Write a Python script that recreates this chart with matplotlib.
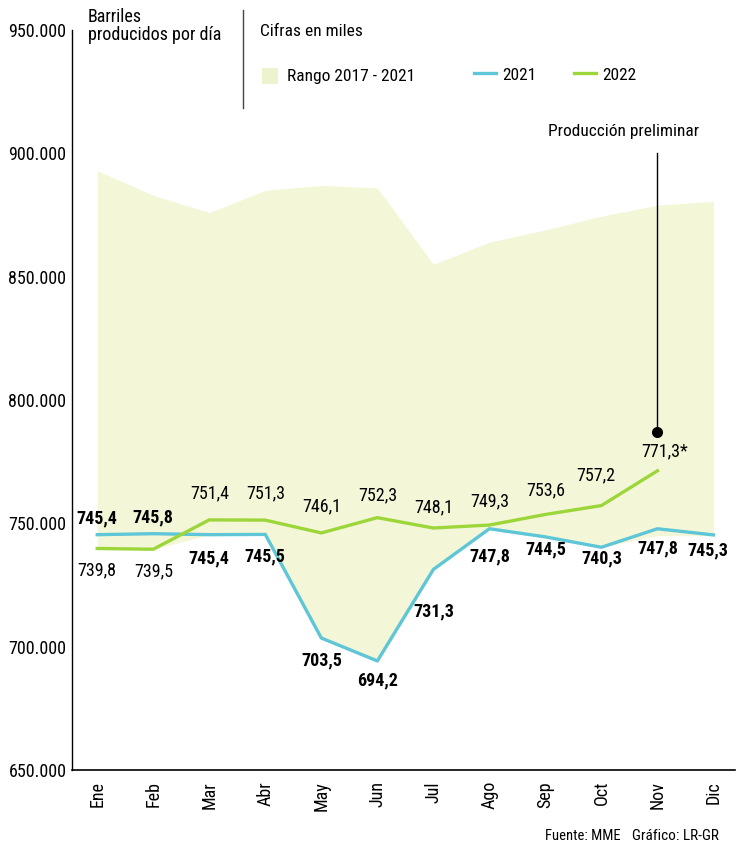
import matplotlib
matplotlib.use("Agg")
import matplotlib.pyplot as plt
from matplotlib.lines import Line2D
from matplotlib.patches import Rectangle
from matplotlib.ticker import FuncFormatter

plt.rcParams['font.family'] = ['Roboto Condensed', 'Open Sans Condensed', 'PT Sans Narrow', 'DejaVu Sans']

# =========================
# DATA (miles de barriles por día)
# =========================
months = ["Ene", "Feb", "Mar", "Abr", "May", "Jun", "Jul", "Ago", "Sep", "Oct", "Nov", "Dic"]
prod_2021 = [745.4, 745.8, 745.4, 745.5, 703.5, 694.2, 731.3, 747.8, 744.5, 740.3, 747.8, 745.3]
prod_2022 = [739.8, 739.5, 751.4, 751.3, 746.1, 752.3, 748.1, 749.3, 753.6, 757.2, 771.3]
range_high = [893, 883, 876, 885, 887, 886, 855, 864, 869, 874.5, 879, 880.5]
range_low = [739.5, 739.5, 745.4, 745.5, 703.5, 694.2, 731.3, 747.8, 744.5, 740.3, 745.0, 745.0]
yticks = [650, 700, 750, 800, 850, 900, 950]

# label offsets in points (layout only)
off_2021 = [(0, 12), (0, 12), (0, -17), (0, -16), (0, -16), (0, -14), (0, -30),
            (0, -20), (0, -9), (0, -8), (0, -14), (-4, -11)]
off_2022 = [(0, -16), (0, -16), (0, 19), (0, 19), (0, 19), (0, 16), (0, 15),
            (0, 17), (0, 17), (-4, 22), (5, 14)]

BLUE = "#5ec6d6"
GREEN = "#9dd63a"
BAND = "#f3f7d8"

fig = plt.figure(figsize=(7.38, 8.48), dpi=100)
ax = fig.add_axes([0.0976, 0.092, 0.898, 0.8726])

x = list(range(len(months)))
to_units = lambda vals: [v * 1000 for v in vals]

ax.fill_between(x, to_units(range_low), to_units(range_high), color=BAND, lw=0, zorder=1)
ax.plot(x, to_units(prod_2021), color=BLUE, lw=2.4, zorder=3)
ax.plot(x[:len(prod_2022)], to_units(prod_2022), color=GREEN, lw=2.4, zorder=4)

fmt = lambda v: f"{v:.1f}".replace(".", ",")
for i, v in enumerate(prod_2021):
    ax.annotate(fmt(v), (i, v * 1000), xytext=off_2021[i], textcoords="offset points",
                ha="center", va="center", fontsize=13, fontweight="bold", zorder=5)
for i, v in enumerate(prod_2022):
    label = fmt(v) + ("*" if i == len(prod_2022) - 1 else "")
    ax.annotate(label, (i, v * 1000), xytext=off_2022[i], textcoords="offset points",
                ha="center", va="center", fontsize=13, zorder=5)

# preliminary production marker
nov = len(prod_2022) - 1
ax.plot([nov, nov], [787000, 900000], color="black", lw=1, zorder=5)
ax.plot(nov, 787000, "o", color="black", ms=7, zorder=6)
ax.text(nov - 0.6, 906000, "Producción preliminar", ha="center", va="bottom", fontsize=12.5)

ax.set_xlim(-0.45, 11.38)
ax.set_ylim(650000, 950000)
ax.set_xticks(x)
ax.set_xticklabels(months, rotation=90, fontsize=13)
ax.set_yticks([t * 1000 for t in yticks])
ax.yaxis.set_major_formatter(FuncFormatter(lambda v, p: f"{v:,.0f}".replace(",", ".")))
ax.tick_params(axis="y", length=0, labelsize=13, pad=4)
ax.tick_params(axis="x", length=0, pad=8)
for s in ["top", "right"]:
    ax.spines[s].set_visible(False)
ax.spines["left"].set_linewidth(1)
ax.spines["bottom"].set_linewidth(1.2)

# header
fig.text(88 / 738, 1 - 8 / 848, "Barriles\nproducidos por día", ha="left", va="top",
         fontsize=13, linespacing=1.0)
fig.add_artist(Line2D([243 / 738, 243 / 738], [1 - 10 / 848, 1 - 108 / 848], color="#444444", lw=1))
fig.text(260 / 738, 1 - 32 / 848, "Cifras en miles", ha="left", va="center", fontsize=12.5)
fig.add_artist(Rectangle((262 / 738, 1 - 84 / 848), 16 / 738, 16 / 848, color="#eef3cf", lw=0))
fig.text(287 / 738, 1 - 76 / 848, "Rango 2017 - 2021", ha="left", va="center", fontsize=12.5)
fig.add_artist(Line2D([474 / 738, 496 / 738], [1 - 73 / 848] * 2, color=BLUE, lw=2.4))
fig.text(502 / 738, 1 - 76 / 848, "2021", ha="left", va="center", fontsize=12.5)
fig.add_artist(Line2D([574 / 738, 596 / 738], [1 - 73 / 848] * 2, color=GREEN, lw=2.4))
fig.text(602 / 738, 1 - 76 / 848, "2022", ha="left", va="center", fontsize=12.5)

# footer
fig.text(545 / 738, 1 - 836 / 848, "Fuente: MME", ha="left", va="center", fontsize=10.5)
fig.text(632 / 738, 1 - 836 / 848, "Gráfico: LR-GR", ha="left", va="center", fontsize=11)

fig.savefig("out.png", dpi=100)
